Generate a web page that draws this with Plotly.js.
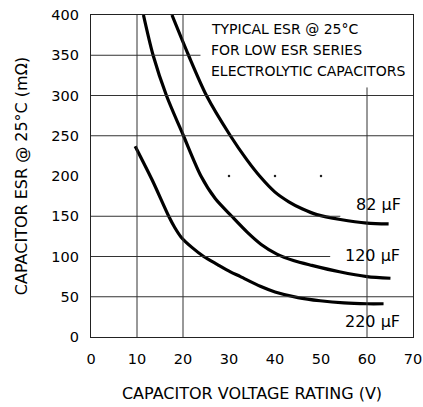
<!DOCTYPE html>
<html><head><meta charset="utf-8">
<script src="https://cdn.plot.ly/plotly-3.0.1.min.js"></script>
<style>html,body{margin:0;padding:0;background:#fff}</style>
</head><body><div id="chart" style="width:423px;height:407px"></div>
<script>
// Data
const x82 = [17.6, 21.2, 25.1, 30.3, 33.9, 36.8, 40.0, 43.0, 46.0, 49.1, 54.2, 60.0, 64.7];
const y82 = [400, 350, 300, 250, 220, 199, 180, 168, 159, 152, 146, 141.5, 140.5];
const x120 = [11.4, 13.5, 16.4, 20.1, 23.9, 27.0, 30.6, 34.0, 37.0, 40.4, 44.0, 48.0, 54.0, 60.0, 65.1];
const y120 = [400, 350, 300, 250, 200, 172, 150, 130, 115, 103, 95, 89, 81, 75, 73];
const x220 = [9.6, 13.3, 16.9, 18.2, 19.6, 22.0, 24.5, 27.5, 30.3, 32.5, 36.8, 40.0, 45.0, 49.8, 55.0, 60.0, 63.6];
const y220 = [237, 195, 150, 136, 124, 111, 100, 90, 81, 75, 63, 56, 49, 45, 42.3, 41.3, 41.3];
const seriesLabels = ['82 \u03bcF', '120 \u03bcF', '220 \u03bcF'];
const xTicks = [0, 10, 20, 30, 40, 50, 60, 70];
const yTicks = [0, 50, 100, 150, 200, 250, 300, 350, 400];
const noteLines = ['TYPICAL ESR @ 25\u00b0C', 'FOR LOW ESR SERIES', 'ELECTROLYTIC CAPACITORS'];

const FONT = 'DejaVu Sans, sans-serif';
const gridColor = '#333';

// Grid lines (partial, as in the reference)
const shapes = [];
function hline(y, xa, xb){ shapes.push({type:'line', xref:'x', yref:'y', x0:xa, x1:xb, y0:y, y1:y, line:{color:gridColor, width:1}}); }
function vline(x, ya, yb){ shapes.push({type:'line', xref:'x', yref:'y', x0:x, x1:x, y0:ya, y1:yb, line:{color:gridColor, width:1}}); }
hline(50, 0, 70); hline(100, 0, 52); hline(150, 0, 54.2);
hline(250, 0, 70); hline(300, 0, 70); hline(350, 0, 23.8);
vline(10, 0, 400); vline(20, 0, 400); vline(60, 0, 310);

// Grid dots at intersections where no line is drawn
const dotX = [], dotY = [];
[30, 40, 50].forEach(function(gx){ dotX.push(gx); dotY.push(yTicks[4]); });

const lineStyle = {color:'#000', width:3.2, shape:'spline', smoothing:0.8};
const data = [
  {x:dotX, y:dotY, mode:'markers', marker:{size:2.5, color:'#222'}, hoverinfo:'skip', showlegend:false},
  {x:x82, y:y82, mode:'lines', line:lineStyle, name:seriesLabels[0], showlegend:false},
  {x:x120, y:y120, mode:'lines', line:lineStyle, name:seriesLabels[1], showlegend:false},
  {x:x220, y:y220, mode:'lines', line:lineStyle, name:seriesLabels[2], showlegend:false}
];

const labFont = {family:FONT, size:16, color:'#000'};
const annotations = [
  {x:67.8, y:165, text:seriesLabels[0], xanchor:'right', yanchor:'middle', showarrow:false, font:labFont},
  {x:67.5, y:101, text:seriesLabels[1], xanchor:'right', yanchor:'middle', showarrow:false, font:labFont},
  {x:67.5, y:19, text:seriesLabels[2], xanchor:'right', yanchor:'middle', showarrow:false, font:labFont}
];
noteLines.forEach(function(t, i){
  annotations.push({x:25.6, y:382.6 - i*26, text:t, xanchor:'left', yanchor:'middle', showarrow:false, font:{family:FONT, size:14, color:'#000'}});
});

const layout = {
  width:423, height:407,
  margin:{l:91, r:10, t:15, b:70},
  paper_bgcolor:'#fff', plot_bgcolor:'#fff',
  font:{family:FONT, color:'#000', size:14},
  showlegend:false,
  xaxis:{range:[0,70], tickvals:xTicks, ticktext:xTicks.map(String), showgrid:false, zeroline:false,
         showline:true, mirror:true, linecolor:'#222', linewidth:1.2, ticks:'', ticklen:0, ticklabelstandoff:8,
         tickfont:{family:FONT, size:14.5}, title:{text:'CAPACITOR VOLTAGE RATING (V)', font:{family:FONT, size:16}, standoff:22}},
  yaxis:{range:[0,400], tickvals:yTicks, ticktext:yTicks.map(String), showgrid:false, zeroline:false,
         showline:true, mirror:true, linecolor:'#222', linewidth:1.2, ticks:'', ticklen:0, ticklabelstandoff:8,
         tickfont:{family:FONT, size:14.5}, title:{text:'CAPACITOR ESR @ 25\u00b0C (m\u03a9)', font:{family:FONT, size:16}, standoff:19}},
  shapes:shapes,
  annotations:annotations
};
Plotly.newPlot('chart', data, layout, {staticPlot:true, displayModeBar:false});
</script>
</body></html>
